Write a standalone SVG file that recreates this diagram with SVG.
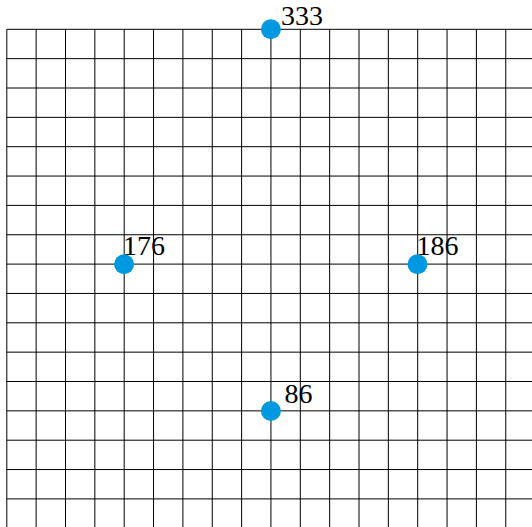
<svg xmlns="http://www.w3.org/2000/svg" width="532" height="527" viewBox="0 0 532 527">
<style>
.grid line{stroke:#000;stroke-width:1}
.dot{fill:#0098E0}
.lbl{font-family:"Liberation Serif","Times New Roman",serif;font-size:28px;fill:#000}
</style>
<rect width="532" height="527" fill="#fff"/>
<g id="grid" class="grid">
<line x1="6.8" y1="29.3" x2="6.8" y2="527"/>
<line x1="36.15" y1="29.3" x2="36.15" y2="527"/>
<line x1="65.5" y1="29.3" x2="65.5" y2="527"/>
<line x1="94.85" y1="29.3" x2="94.85" y2="527"/>
<line x1="124.2" y1="29.3" x2="124.2" y2="527"/>
<line x1="153.55" y1="29.3" x2="153.55" y2="527"/>
<line x1="182.9" y1="29.3" x2="182.9" y2="527"/>
<line x1="212.25" y1="29.3" x2="212.25" y2="527"/>
<line x1="241.6" y1="29.3" x2="241.6" y2="527"/>
<line x1="270.95" y1="29.3" x2="270.95" y2="527"/>
<line x1="300.3" y1="29.3" x2="300.3" y2="527"/>
<line x1="329.65" y1="29.3" x2="329.65" y2="527"/>
<line x1="359" y1="29.3" x2="359" y2="527"/>
<line x1="388.35" y1="29.3" x2="388.35" y2="527"/>
<line x1="417.7" y1="29.3" x2="417.7" y2="527"/>
<line x1="447.05" y1="29.3" x2="447.05" y2="527"/>
<line x1="476.4" y1="29.3" x2="476.4" y2="527"/>
<line x1="505.75" y1="29.3" x2="505.75" y2="527"/>
<line x1="6.8" y1="29.3" x2="532" y2="29.3"/>
<line x1="6.8" y1="58.65" x2="532" y2="58.65"/>
<line x1="6.8" y1="88" x2="532" y2="88"/>
<line x1="6.8" y1="117.35" x2="532" y2="117.35"/>
<line x1="6.8" y1="146.7" x2="532" y2="146.7"/>
<line x1="6.8" y1="176.05" x2="532" y2="176.05"/>
<line x1="6.8" y1="205.4" x2="532" y2="205.4"/>
<line x1="6.8" y1="234.75" x2="532" y2="234.75"/>
<line x1="6.8" y1="264.1" x2="532" y2="264.1"/>
<line x1="6.8" y1="293.45" x2="532" y2="293.45"/>
<line x1="6.8" y1="322.8" x2="532" y2="322.8"/>
<line x1="6.8" y1="352.15" x2="532" y2="352.15"/>
<line x1="6.8" y1="381.5" x2="532" y2="381.5"/>
<line x1="6.8" y1="410.85" x2="532" y2="410.85"/>
<line x1="6.8" y1="440.2" x2="532" y2="440.2"/>
<line x1="6.8" y1="469.55" x2="532" y2="469.55"/>
<line x1="6.8" y1="498.9" x2="532" y2="498.9"/>
</g>
<g id="connectors"></g>
<g id="node-333">
<circle class="dot" cx="270.9" cy="29.3" r="10"/>
<text class="lbl" x="281" y="25">333</text>
</g>
<g id="node-176">
<circle class="dot" cx="124.1" cy="264.2" r="10"/>
<text class="lbl" x="123" y="255">176</text>
</g>
<g id="node-186">
<circle class="dot" cx="417.5" cy="264.2" r="10"/>
<text class="lbl" x="416.5" y="255">186</text>
</g>
<g id="node-86">
<circle class="dot" cx="270.9" cy="411" r="10"/>
<text class="lbl" x="284.5" y="403">86</text>
</g>
</svg>
